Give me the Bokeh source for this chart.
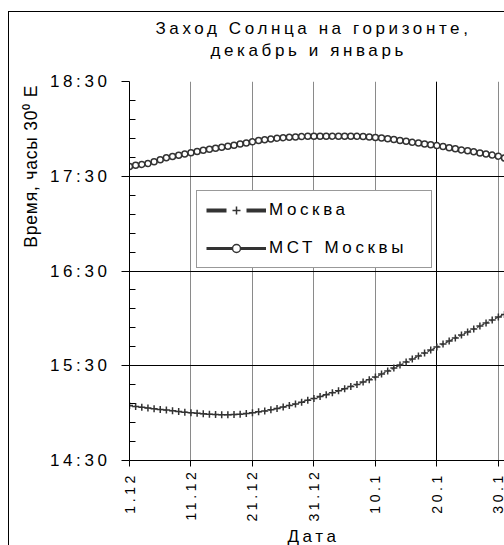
from math import pi
from bokeh.plotting import figure
from bokeh.layouts import row, column
from bokeh.models import (ColumnDataSource, FixedTicker, Legend, LegendItem,
                          Range1d, Title, Grid)
from bokeh.core.properties import value
from bokeh.embed import file_html
from bokeh.resources import INLINE

# ---- data -------------------------------------------------------------
# day number counted from 1 December (0 = 1.12, 31 = 1.1)
day = list(range(62))

# sunset in Moscow, minutes after midnight (time of 30 deg E meridian)
moscow = [
    904.8, 904.2, 903.7, 903.2, 902.7, 902.3, 901.9, 901.5, 901.0, 900.6,
    900.2, 899.9, 899.6, 899.3, 899.1, 899.0, 899.0, 899.1, 899.3, 899.7,
    900.2, 900.8, 901.4, 902.1, 902.9, 903.8, 904.8, 905.8, 906.9, 908.1,
    909.3, 910.5, 911.7, 912.9, 914.1, 915.4, 916.8, 918.2, 919.7, 921.2,
    922.8, 924.7, 926.6, 928.5, 930.4, 932.3, 934.2, 936.1, 938.0, 939.9,
    941.8, 943.7, 945.6, 947.5, 949.4, 951.3, 953.2, 955.1, 957.0, 958.9,
    960.8, 962.5,
]

# sunset, local mean solar time of Moscow, minutes after midnight
mct = [
    1056.2, 1057.0, 1057.5, 1058.0, 1059.2, 1060.5, 1061.7, 1062.5, 1063.3, 1064.1,
    1064.9, 1065.7, 1066.4, 1067.1, 1067.8, 1068.4, 1069.0, 1069.7, 1070.4, 1071.1,
    1071.8, 1072.6, 1073.1, 1073.6, 1074.1, 1074.4, 1074.7, 1074.9, 1075.1, 1075.3,
    1075.4, 1075.4, 1075.4, 1075.4, 1075.4, 1075.4, 1075.4, 1075.3, 1075.2, 1074.9,
    1074.5, 1074.2, 1073.7, 1073.2, 1072.6, 1072.1, 1071.5, 1071.0, 1070.4, 1069.9,
    1069.4, 1068.8, 1068.1, 1067.4, 1066.7, 1066.1, 1065.5, 1064.8, 1064.1, 1063.4,
    1062.7, 1061.5,
]

x_tick_days = [0, 10, 20, 30, 40, 50, 60]
x_tick_labels = ["1.12", "11.12", "21.12", "31.12", "10.1", "20.1", "30.1"]
y_tick_minutes = [870, 930, 990, 1050, 1110]
y_tick_labels = ["14:30", "15:30", "16:30", "17:30", "18:30"]
y_minor_minutes = [882, 894, 906, 918, 942, 954, 966, 978,
                   1002, 1014, 1026, 1038, 1062, 1074, 1086, 1098]

series_names = ["Москва", "МСТ Москвы"]
title_lines = ["Заход Солнца на горизонте,", "декабрь и январь"]
y_label = "Время, часы 30\u2070 E"
x_label = "Дата"

# ---- layout / style constants (pixels) --------------------------------
FONT = "Liberation Sans"
FS = "17px"
INK = "#333333"
W, H = 504, 545
LEFT_W = 45          # strip holding the vertical axis title
TOP_H = 60           # strip holding the two title lines
FRAME_L, FRAME_T, FRAME_B = 129, 81, 460
TRACK = "3.6px"      # letter spacing of the original chart texts
YL_TRACK = 0.8       # letter spacing of the vertical axis title
LINE = "linear-gradient(#000,#000)"
title_x = [155, 210]     # left edge of each title line
title_base = [28, 50]    # baseline of each title line

src = ColumnDataSource(dict(day=day, moscow=moscow, mct=mct))

# ---- main chart -------------------------------------------------------
p = figure(width=W - LEFT_W, height=H - TOP_H, output_backend="svg",
           toolbar_location=None, title=None,
           x_range=Range1d(day[0], day[-1]),
           y_range=Range1d(y_tick_minutes[0], y_tick_minutes[-1]),
           min_border_left=FRAME_L - LEFT_W, min_border_right=0,
           min_border_top=FRAME_T - TOP_H, min_border_bottom=H - FRAME_B,
           background_fill_color="white", border_fill_color=None)
p.outline_line_color = None
p.styles = {"letter-spacing": TRACK}

# grids (the 20.1 line is drawn darker in the original)
p.xgrid.ticker = FixedTicker(ticks=x_tick_days[1:])
p.xgrid.grid_line_color = "#8a8a8a"
p.xgrid.grid_line_width = 1
p.add_layout(Grid(dimension=0, ticker=FixedTicker(ticks=[x_tick_days[5]]),
                  grid_line_color="black", grid_line_width=1))
p.ygrid.ticker = FixedTicker(ticks=y_tick_minutes[1:-1])
p.ygrid.grid_line_color = "black"
p.ygrid.grid_line_width = 1

# axes
xa = p.xaxis[0]
xa.ticker = FixedTicker(ticks=x_tick_days, minor_ticks=[])
xa.major_label_overrides = dict(zip(x_tick_days, x_tick_labels))
xa.major_label_orientation = pi / 2
xa.major_tick_in = 0
xa.major_tick_out = 6
xa.minor_tick_in = 0
xa.minor_tick_out = 0
xa.major_label_standoff = 20
xa.major_label_text_font_size = "14px"

ya = p.yaxis[0]
ya.ticker = FixedTicker(ticks=y_tick_minutes, minor_ticks=y_minor_minutes)
ya.major_label_overrides = dict(zip(y_tick_minutes, y_tick_labels))
ya.major_tick_in = 0
ya.major_tick_out = 8
ya.minor_tick_in = 6
ya.minor_tick_out = 0
ya.major_label_standoff = 29
ya.major_label_text_font_size = FS

for ax in (xa, ya):
    ax.axis_line_color = "black"
    ax.axis_line_width = 1
    ax.major_tick_line_color = "black"
    ax.minor_tick_line_color = "black"
    ax.major_label_text_font = FONT
    ax.major_label_text_color = "black"

# x axis title: caption below the axis, left edge at x = 287
p.add_layout(Title(text=x_label, align="left", offset=287 - FRAME_L,
                   text_font=FONT, text_font_size=FS, text_font_style="normal",
                   text_color="black", standoff=0), "below")

# series
p.line("day", "moscow", source=src, line_color=INK, line_width=1.2, line_dash="3 2")
p.scatter("day", "moscow", source=src, marker="cross", size=7,
          line_color=INK, line_width=1.5)
p.line("day", "mct", source=src, line_color=INK, line_width=1.5)
p.scatter("day", "mct", source=src, marker="circle", size=6,
          fill_color="white", line_color=INK, line_width=1.5)

# legend glyphs (drawn thicker than the series, like the original); hidden on the plot
lg_m_line = p.line("day", "moscow", source=src, line_color=INK,
                   line_width=4, line_dash="20 20", visible=False)
lg_m_pt = p.scatter("day", "moscow", source=src, marker="cross",
                    line_color=INK, line_width=1.5, visible=False)
lg_c_line = p.line("day", "mct", source=src, line_color=INK, line_width=3, visible=False)
lg_c_pt = p.scatter("day", "mct", source=src, marker="circle",
                    fill_color="white", line_color=INK, line_width=1.5, visible=False)

legend = Legend(items=[LegendItem(label=series_names[0], renderers=[lg_m_line, lg_m_pt]),
                       LegendItem(label=series_names[1], renderers=[lg_c_line, lg_c_pt])],
                location=(196 - FRAME_L, FRAME_B - 268))
legend.label_text_font = FONT
legend.label_text_font_size = FS
legend.label_text_color = "black"
legend.glyph_width = 60
legend.glyph_height = 20
legend.label_height = 20
legend.label_width = 153
legend.label_standoff = 3
legend.padding = 9
legend.spacing = 18
legend.border_line_color = INK
legend.border_line_width = 1
legend.background_fill_color = "white"
legend.background_fill_alpha = 1
legend.inactive_fill_alpha = 0
p.add_layout(legend, "center")

# ---- title strip (pixel coordinates of the page) -----------------------
tf = figure(width=W - LEFT_W, height=TOP_H, output_backend="svg",
            toolbar_location=None, title=None,
            x_axis_type=None, y_axis_type=None,
            x_range=Range1d(FRAME_L, W), y_range=Range1d(TOP_H, 0),
            min_border_left=FRAME_L - LEFT_W, min_border_right=0,
            min_border_top=0, min_border_bottom=0,
            background_fill_color=None, border_fill_color=None)
tf.outline_line_color = None
tf.grid.visible = False
tf.text(x=title_x, y=title_base, text=title_lines,
        text_align="left", text_baseline="alphabetic",
        text_font=value(FONT), text_font_size=value(FS), text_color="black")
tf.styles = {
    "letter-spacing": TRACK,
    "background": f"{LINE} 0 11px / 100% 1px no-repeat",
}

# ---- left strip: vertical axis title + corner of the outer chart frame --
yl = figure(width=LEFT_W, height=H, output_backend="svg",
            toolbar_location=None, title=None,
            x_axis_type=None, y_axis_type=None,
            x_range=Range1d(0, LEFT_W), y_range=p.y_range,
            min_border_left=0, min_border_right=0,
            min_border_top=FRAME_T, min_border_bottom=H - FRAME_B,
            background_fill_color=None, border_fill_color=None)
yl.outline_line_color = None
yl.grid.visible = False
# the text is right-aligned before the letter spacing is added, so move it down
# by the extra length the spacing gives
yl.text(x=[30], y=[y_tick_minutes[-1]],
        y_offset=4 + (len(y_label) - 1) * YL_TRACK, text=[y_label], angle=pi / 2,
        text_align="right", text_baseline="middle",
        text_font=value(FONT), text_font_size=value("17.5px"), text_color="black")
yl.styles = {
    "letter-spacing": f"{YL_TRACK}px",
    "background": f"{LINE} 8px 11px / 1px {H - 11}px no-repeat, "
                  f"{LINE} 8px 11px / {LEFT_W - 8}px 1px no-repeat",
}

layout = row(yl, column(tf, p, spacing=0), spacing=0)

open("out.html", "w").write(file_html(layout, INLINE))
